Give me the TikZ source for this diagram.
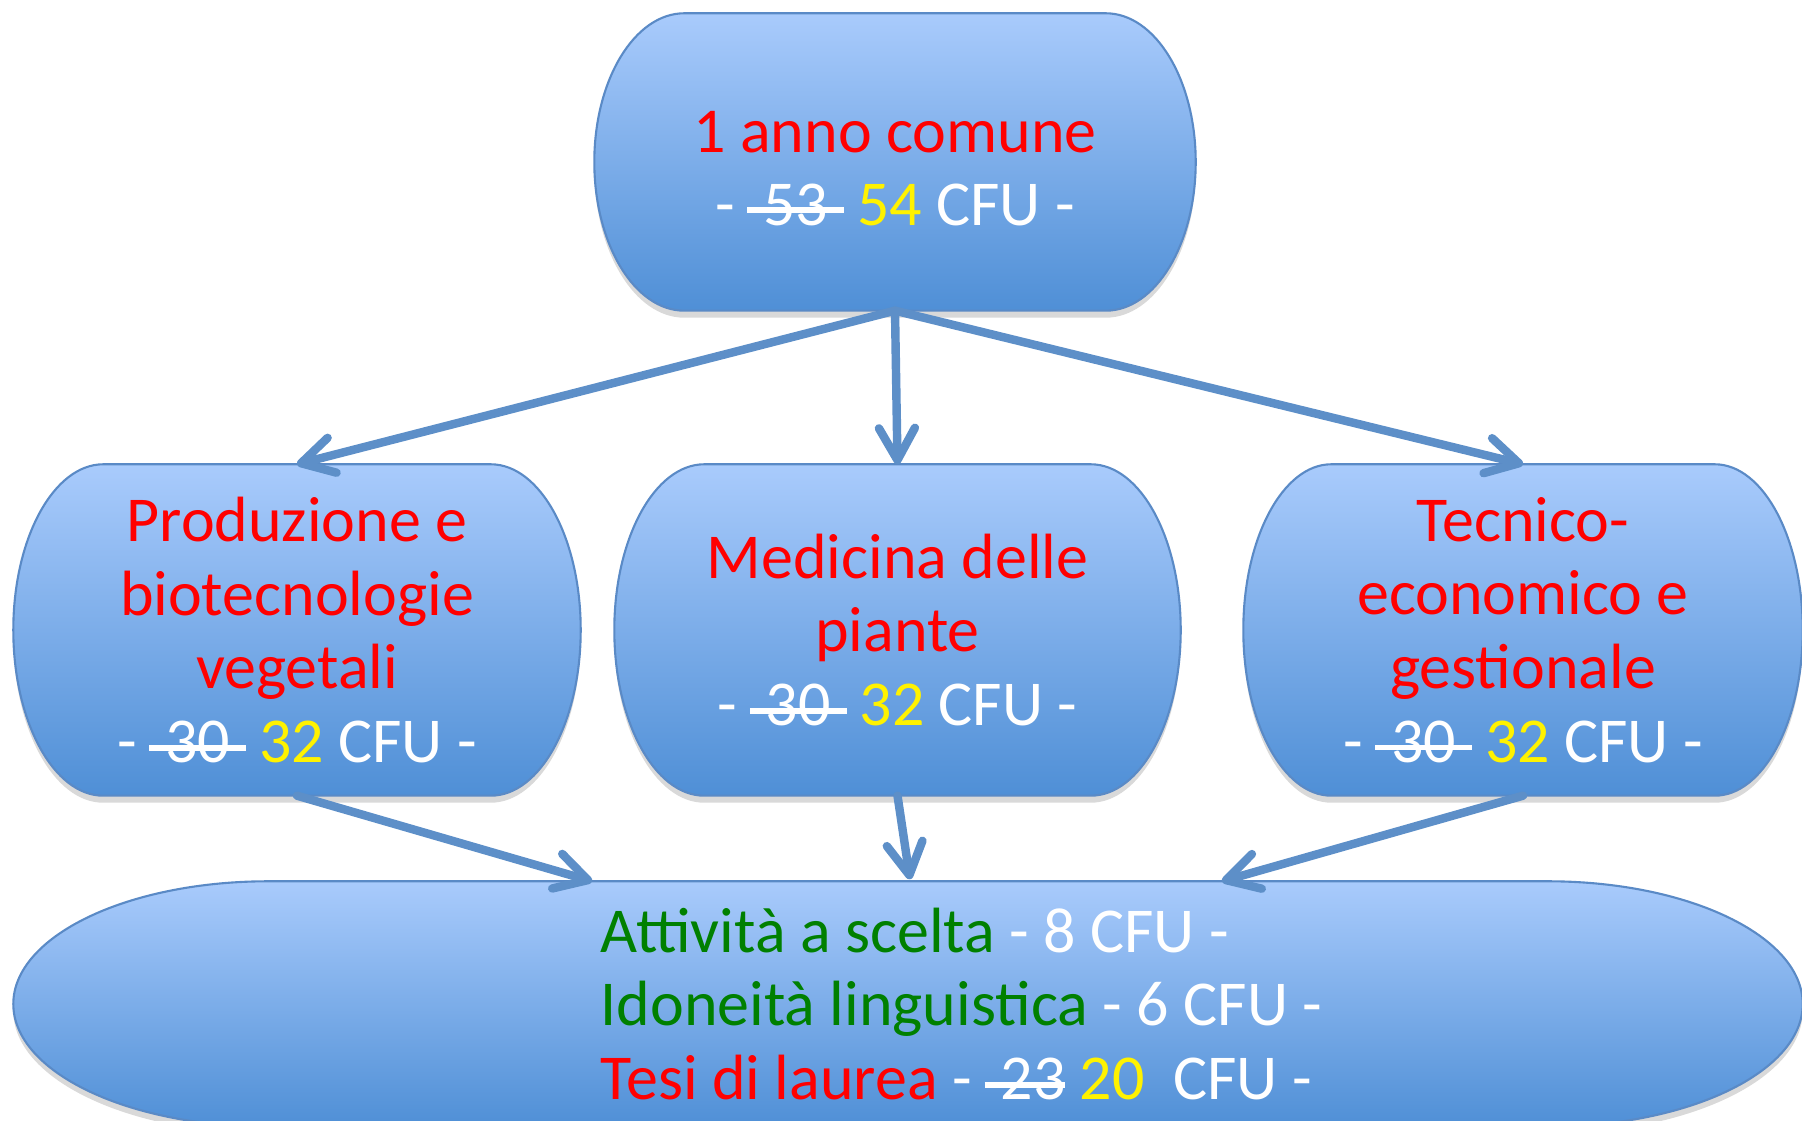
\documentclass[tikz,border=0pt]{standalone}
\usepackage{fontspec}
\setmainfont{Carlito}
\usetikzlibrary{arrows.meta,backgrounds,calc,shadows}

\definecolor{boxtop}{HTML}{A9CBFC}
\definecolor{boxbot}{HTML}{4F8FD6}
\definecolor{boxline}{HTML}{5A8AC6}
\definecolor{arrowblue}{HTML}{5D8FC8}
\definecolor{darkgreen}{HTML}{008000}

% struck-out old value
\newlength\oldwd
\newcommand{\oldcfu}[2][0.25em]{\settowidth{\oldwd}{#2}%
  \makebox[0pt][l]{\kern-0.25em\rule[0.19em]{\dimexpr\oldwd+0.25em+#1\relax}{0.085em}}#2}

% capsule outline behind a node
\newcommand{\capsule}[2]{%
  \path[capsulefill] let \p1=(#1.north west), \p2=(#1.south east), \n1={0.5*(\y1-\y2)} in
    (\x1+#2,\y1) -- (\x2-#2,\y1)
    arc[start angle=90, end angle=-90, x radius=#2, y radius=\n1]
    -- (\x1+#2,\y2)
    arc[start angle=270, end angle=90, x radius=#2, y radius=\n1] -- cycle;}

\tikzset{
  capsulefill/.style={draw=boxline, line width=0.6pt, top color=boxtop, bottom color=boxbot,
    drop shadow={shadow xshift=0pt, shadow yshift=-2pt, opacity=0.3}},
  box/.style={minimum height=3.30cm, inner sep=0pt, align=center, text=white,
    font=\fontsize{18.2}{21}\selectfont},
  flow/.style={draw=arrowblue, line width=2.4pt, line cap=round,
    -{Straight Barb[length=3.2mm,width=3.6mm,round]}}
}

\begin{document}
\begin{tikzpicture}
    \useasboundingbox (0,0) rectangle (18.02,11.21);

    % Boxes
    \node[box, minimum width=6.00cm, minimum height=2.96cm, font=\fontsize{18.2}{20.5}\selectfont] (anno) at (8.95,9.59)
        {\rule{0pt}{15.5pt}\textcolor{red}{1 anno comune}\\-\hspace{0.45em}\oldcfu{53}\hspace{0.45em}\textcolor{yellow}{54} CFU -};
    \node[box, minimum width=5.66cm] (prod) at (2.97,4.91)
        {\textcolor{red}{Produzione e}\\\textcolor{red}{biotecnologie}\\\textcolor{red}{vegetali}\\-\hspace{0.45em}\oldcfu{30}\hspace{0.45em}\textcolor{yellow}{32} CFU -};
    \node[box, minimum width=5.65cm] (med) at (8.975,4.91)
        {\textcolor{red}{Medicina delle}\\\textcolor{red}{piante}\\-\hspace{0.45em}\oldcfu{30}\hspace{0.45em}\textcolor{yellow}{32} CFU -};
    \node[box, minimum width=5.58cm] (tec) at (15.23,4.91)
        {\textcolor{red}{Tecnico-}\\\textcolor{red}{economico e}\\\textcolor{red}{gestionale}\\-\hspace{0.45em}\oldcfu{30}\hspace{0.45em}\textcolor{yellow}{32} CFU -};
    \node[minimum width=17.88cm, minimum height=2.44cm, inner sep=0pt] (common) at (9.08,1.17) {};
    \node[anchor=west, inner sep=0pt, align=left, text=white, font=\fontsize{18.2}{21}\selectfont] (extra) at (6.00,1.17)
        {\textcolor{darkgreen}{Attività a scelta} - 8 CFU -\\
         \textcolor{darkgreen}{Idoneità linguistica} - 6 CFU -\\
         \textcolor{red}{Tesi di laurea} -\hspace{0.45em}\oldcfu[0em]{23} \textcolor{yellow}{20}\hspace{0.45em}CFU -};

    \begin{scope}[on background layer]
        \capsule{anno}{0.9cm}
        \capsule{prod}{0.9cm}
        \capsule{med}{0.9cm}
        \capsule{tec}{0.88cm}
        \capsule{common}{2.55cm}
    \end{scope}

    % Arrows
    \coordinate (in1) at ($(common.north)+(-3.16,0)$);
    \coordinate (in2) at ($(common.north)+(0.02,0.02)$);
    \coordinate (in3) at ($(common.north)+(3.14,0)$);

    \draw[flow] (anno.south) -- (prod.north);
    \draw[flow] (anno.south) -- (med.north);
    \draw[flow] (anno.south) -- (tec.north);
    \draw[flow] (prod.south) -- (in1);
    \draw[flow] (med.south) -- (in2);
    \draw[flow] (tec.south) -- (in3);
\end{tikzpicture}
\end{document}
